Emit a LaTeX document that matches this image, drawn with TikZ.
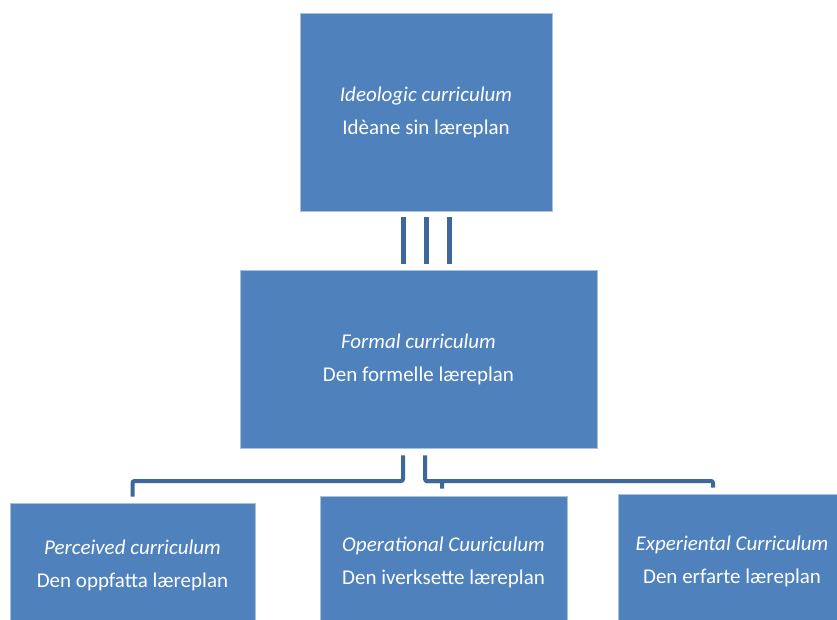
\documentclass[tikz,border=0pt]{standalone}
\usepackage{fontspec}
\setmainfont{Carlito}
\definecolor{boxblue}{HTML}{4F81BD}
\definecolor{boxedge}{HTML}{A9C0DE}
\definecolor{linkblue}{HTML}{3E679B}
\begin{document}
\begin{tikzpicture}[x=1pt,y=-1pt,
  box/.style={fill=boxblue, draw=boxedge, line width=0.8pt, text=white, align=center,
    inner sep=0pt, font=\fontsize{21}{33}\selectfont},
  bar/.style={draw=linkblue, line width=5pt, shorten >=6pt},
  conn/.style={draw=linkblue, line width=4pt, rounded corners=2pt}]
\useasboundingbox (0,0) rectangle (837,620);
\fill[white] (0,0) rectangle (837,620);
\node[box, minimum width=252pt, minimum height=198pt] (ideo) at (426,112)
  {\textit{Ideologic curriculum}\\Idèane sin læreplan};
\node[box, minimum width=357pt, minimum height=178pt] (formal) at (418.5,359)
  {\textit{Formal curriculum}\\Den formelle læreplan};
\node[box, minimum width=245pt, minimum height=125pt] (perc) at (132.5,565.5)
  {\textit{Perceived curriculum}\\Den oppfatta læreplan};
\node[box, minimum width=247pt, minimum height=132pt] (oper) at (443.5,562)
  {\textit{Operational Cuuriculum}\\Den iverksette læreplan};
\node[box, minimum width=228pt, minimum height=134pt] (expe) at (732,561)
  {\textit{Experiental Curriculum}\\Den erfarte læreplan};
% three bars between ideological and formal
\coordinate (bta) at ([xshift=-23pt, yshift=-6pt]ideo.south);
\coordinate (btb) at ([yshift=-6pt]ideo.south);
\coordinate (btc) at ([xshift=23.5pt, yshift=-6pt]ideo.south);
\draw[bar] (bta) -- (bta |- formal.north);
\draw[bar] (btb) -- (btb |- formal.north);
\draw[bar] (btc) -- (btc |- formal.north);
% connectors from formal
\coordinate (fa) at ([xshift=-15.5pt, yshift=-7pt]formal.south);
\coordinate (fb) at ([xshift=6.5pt, yshift=-7pt]formal.south);
\coordinate (ta) at ([yshift=6pt]perc.north);
\coordinate (tb) at ([xshift=-1.5pt, yshift=7pt]oper.north);
\coordinate (tc) at ([xshift=-19pt, yshift=6pt]expe.north);
\draw[conn] (fa) -- (fa |- 0,481) -| (ta);
\draw[conn] (fb) -- (fb |- 0,481) -| (tb);
\draw[conn] (fb |- 0,481) -| (tc);
\end{tikzpicture}
\end{document}
